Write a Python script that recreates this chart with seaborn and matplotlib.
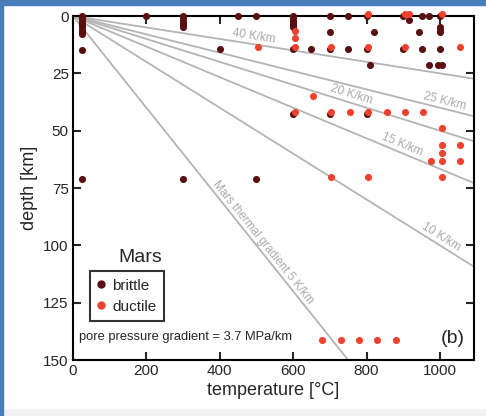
import numpy as np
import pandas as pd
import matplotlib
matplotlib.use("Agg")
import matplotlib.pyplot as plt
from matplotlib.lines import Line2D
from matplotlib.patches import Rectangle
from matplotlib.transforms import ScaledTranslation
import seaborn as sns

# ---- data ----
brittle_temp = [25, 25, 25, 25, 25, 25, 25, 25, 25, 25, 25,
                200,
                300, 300, 300, 300, 300, 300, 300,
                400, 450, 500, 500,
                600, 600, 600, 600, 600, 600, 600, 600,
                650,
                700, 700, 700, 700,
                750, 750,
                800, 800, 800, 810, 820,
                900, 900, 915, 942, 950, 950, 970, 970,
                1000, 1000, 1000, 1000, 1000, 995, 1005]
brittle_depth = [0, 1, 2, 3, 4, 5, 6, 7, 8, 15, 71,
                 0,
                 0, 1, 2, 3, 4, 5, 71,
                 14.2, 0, 0, 71,
                 0, 1, 2, 3, 4, 5, 14.2, 42.6,
                 14.2,
                 0, 7.1, 14.2, 42.6,
                 0, 14.2,
                 0, 14.2, 42.6, 21.3, 7.1,
                 0, 14.2, 1.6, 7.1, 0, 14.2, 0, 21.3,
                 0, 5, 6, 7, 14.2, 21.3, 21.3]

ductile_temp = [500,
                600, 600, 600, 600,
                650,
                700, 700, 700,
                750,
                800, 800, 800, 800,
                850,
                900, 900, 900, 910,
                950, 970,
                1000, 1000, 1000, 1000, 1000, 1000,
                1050, 1050, 1050,
                675, 725, 775, 825, 875]
ductile_depth = [14.2,
                 7.1, 10.5, 14.2, 42.6,
                 35.5,
                 14.2, 42.6, 71,
                 42.6,
                 0, 14.2, 42.6, 71,
                 42.6,
                 0, 14.2, 42.6, 0,
                 42.6, 63.9,
                 0, 49.7, 56.8, 60.4, 63.9, 71,
                 14.2, 56.8, 63.9,
                 142, 142, 142, 142, 142]

gradients = [40, 25, 20, 15, 10, 5]              # K/km
gradient_labels = ["40 K/km", "25 K/km", "20 K/km", "15 K/km", "10 K/km",
                   "Mars thermal gradient 5 K/km"]
label_temp = [490, 1010, 755, 890, 993, 505]      # where each label sits along its line

x_ticks = [0, 200, 400, 600, 800, 1000]
y_ticks = [0, 25, 50, 75, 100, 125, 150]

BRITTLE = "#5a1010"
DUCTILE = "#f0402e"
GREY = "#b4b4b4"

sns.set_style("ticks")
plt.rcParams["font.family"] = ["Liberation Sans", "DejaVu Sans"]

fig = plt.figure(figsize=(4.86, 4.16), dpi=100)
W, H = 486, 416
ax = fig.add_axes([73 / W, 1 - 360 / H, (474 - 73) / W, (360 - 16) / H])

xmax, ymax = 1093, 150
ax.set_xlim(0, xmax)
ax.set_ylim(ymax, 0)

# geothermal gradient lines
t_line = np.linspace(0, xmax, 200)
for g in gradients:
    sns.lineplot(x=t_line, y=t_line / g, color=GREY, lw=1.3, ax=ax,
                 zorder=1, sort=False, estimator=None)

# labels along the gradient lines
for g, lab, tl in zip(gradients, gradient_labels, label_temp):
    p0 = ax.transData.transform((0, 0))
    p1 = ax.transData.transform((100, 100 / g))
    ang = np.degrees(np.arctan2(p1[1] - p0[1], p1[0] - p0[0]))
    ax.text(tl, tl / g - 0.8, lab, rotation=ang, rotation_mode="anchor",
            ha="center", va="bottom", color="#a9a9a9", fontsize=8.5, zorder=2)

brittle = pd.DataFrame({"temperature": brittle_temp, "depth": brittle_depth})
ductile = pd.DataFrame({"temperature": ductile_temp, "depth": ductile_depth})

sns.scatterplot(data=brittle, x="temperature", y="depth", color=BRITTLE,
                s=26, linewidth=0, ax=ax, zorder=4, clip_on=False, legend=False)
sns.scatterplot(data=ductile, x="temperature", y="depth", color=DUCTILE,
                s=26, linewidth=0, ax=ax, zorder=5, clip_on=False, legend=False)
# nudge the ductile layer so coincident brittle points stay visible
ax.collections[-1].set_offset_transform(
    ax.transData + ScaledTranslation(1.2 / 72, 1.2 / 72, fig.dpi_scale_trans))

ax.set_xticks(x_ticks)
ax.set_yticks(y_ticks)
ax.tick_params(direction="in", top=True, right=True, length=6, width=1.5,
               labelsize=11, pad=3, labeltop=False, labelright=False)
for sp in ax.spines.values():
    sp.set_linewidth(1.5)
    sp.set_color("black")
    sp.set_visible(True)

ax.set_xlabel("temperature [°C]", fontsize=13, labelpad=3)
ax.set_ylabel("depth [km]", fontsize=13, labelpad=4)

# legend with its heading above the frame
handles = [Line2D([], [], marker="o", ls="", color=BRITTLE, markersize=5),
           Line2D([], [], marker="o", ls="", color=DUCTILE, markersize=5)]
leg = ax.legend(handles, ["brittle", "ductile"], loc="upper left",
                bbox_to_anchor=(90 / W, 1 - 271 / H), bbox_transform=fig.transFigure,
                borderaxespad=0, fontsize=11, frameon=True, fancybox=False,
                handlelength=0.4, handletextpad=0.55, borderpad=0.5,
                labelspacing=0.45)
leg.get_frame().set_edgecolor("black")
leg.get_frame().set_linewidth(1.5)
fig.text(140 / W, 1 - 257 / H, "Mars", fontsize=14, ha="center", va="center")

ax.text(15, 140, "pore pressure gradient = 3.7 MPa/km", fontsize=9.3,
        ha="left", va="center")
ax.text(1068, 140.5, "(b)", fontsize=14, ha="right", va="center")

# window border
fig.patches.append(Rectangle((0, 1 - 5 / H), 1, 5 / H, transform=fig.transFigure,
                             color="#4a7ebb", zorder=10))
fig.patches.append(Rectangle((0, 0), 3 / W, 1, transform=fig.transFigure,
                             color="#4a7ebb", zorder=10))
fig.patches.append(Rectangle((3 / W, 0), 1, 7 / H, transform=fig.transFigure,
                             color="#f2f2f2", zorder=9))

fig.savefig("out.png", dpi=100)
